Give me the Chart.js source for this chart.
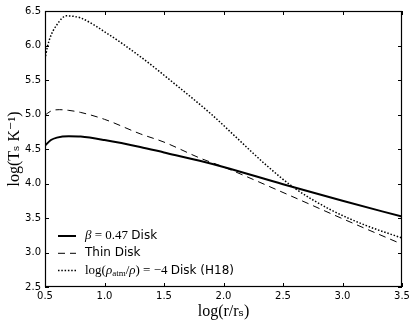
<!DOCTYPE html>
<html>
<head>
<meta charset="utf-8">
<script src="https://cdn.jsdelivr.net/npm/chart.js@4"></script>
<style>
  html, body { margin: 0; padding: 0; background: #fff; }
  #wrap { width: 416px; height: 325px; position: relative; }
</style>
</head>
<body>
<div id="wrap"><canvas id="chart"></canvas></div>
<script>
// log(r/r_s) -> log(T_s)

var xBeta = [0.50, 0.55, 0.60, 0.70, 0.80, 1.00, 1.30, 1.50, 1.80, 2.00, 2.50, 3.00, 3.50];
var yBeta = [4.55, 4.63, 4.665, 4.685, 4.68, 4.63, 4.53, 4.45, 4.33, 4.24, 3.99, 3.75, 3.52];

var xThin = [0.50, 0.55, 0.62, 0.70, 0.80, 1.00, 1.30, 1.50, 1.80, 2.00, 2.50, 3.00, 3.50];
var yThin = [4.99, 5.05, 5.07, 5.06, 5.03, 4.93, 4.72, 4.60, 4.37, 4.24, 3.87, 3.49, 3.12];

var xH18 = [0.50, 0.52, 0.54, 0.57, 0.60, 0.64, 0.68, 0.75, 0.80, 1.00, 1.30, 1.60, 1.90, 2.10, 2.35, 2.60, 2.90, 3.20, 3.50];
var yH18 = [5.80, 5.98, 6.10, 6.22, 6.30, 6.39, 6.43, 6.42, 6.40, 6.20, 5.84, 5.43, 5.00, 4.68, 4.28, 3.93, 3.62, 3.39, 3.21];

var xTicks = [0.5, 1.0, 1.5, 2.0, 2.5, 3.0, 3.5];
var yTicks = [2.5, 3.0, 3.5, 4.0, 4.5, 5.0, 5.5, 6.0, 6.5];

var serif = '"Liberation Serif", "DejaVu Serif", serif';
var sans = '"DejaVu Sans", sans-serif';

function pairs(xs, ys) {
    return xs.map(function (x, i) { return {x: x, y: ys[i]}; });
}

// legend text pieces: [text, font, dy]
var legendRows = [
    [['\u03b2', 'italic 13px ' + serif, 0], [' = 0.47 ', '13px ' + serif, 0], ['Disk', '12px ' + sans, 0]],
    [['Thin Disk', '12px ' + sans, 0]],
    [['log(', '13px ' + serif, 0], ['\u03c1', 'italic 13px ' + serif, 0], ['atm', '9px ' + serif, 3],
     ['/', '13px ' + serif, 0], ['\u03c1', 'italic 13px ' + serif, 0], [') = \u22124 ', '13px ' + serif, 0],
     ['Disk (H18)', '12px ' + sans, 0]]
];

// box round the axes plus inward ticks on all four sides
var frameTicks = {
    id: 'frameTicks',
    afterDatasetsDraw: function (chart) {
        var ctx = chart.ctx, a = chart.chartArea;
        var xs = chart.scales.x, ys = chart.scales.y;
        ctx.save();
        ctx.strokeStyle = '#000';
        ctx.lineWidth = 1;
        ctx.setLineDash([]);
        ctx.beginPath();
        xs.ticks.forEach(function (t) {
            var px = Math.round(xs.getPixelForValue(t.value)) + 0.5;
            ctx.moveTo(px, a.bottom); ctx.lineTo(px, a.bottom - 4);
            ctx.moveTo(px, a.top); ctx.lineTo(px, a.top + 4);
        });
        ys.ticks.forEach(function (t) {
            var py = Math.round(ys.getPixelForValue(t.value)) + 0.5;
            ctx.moveTo(a.left, py); ctx.lineTo(a.left + 4, py);
            ctx.moveTo(a.right, py); ctx.lineTo(a.right - 4, py);
        });
        ctx.stroke();
        ctx.lineWidth = 1.2;
        ctx.strokeRect(a.left + 0.5, a.top + 0.5, a.right - a.left - 1, a.bottom - a.top - 1);
        ctx.restore();
    }
};

// legend in the lower left corner, no frame
var innerLegend = {
    id: 'innerLegend',
    afterDatasetsDraw: function (chart) {
        var ctx = chart.ctx, a = chart.chartArea;
        var x0 = a.left + 13, x1 = a.left + 31, tx = a.left + 40;
        var y = a.bottom - 51;
        ctx.save();
        chart.data.datasets.forEach(function (ds, i) {
            var cy = y + i * 17.3;
            ctx.strokeStyle = ds.borderColor;
            ctx.lineWidth = ds.borderWidth;
            ctx.setLineDash(ds.borderDash || []);
            ctx.beginPath();
            ctx.moveTo(x0, cy); ctx.lineTo(x1, cy);
            ctx.stroke();
            ctx.setLineDash([]);
            ctx.fillStyle = '#000';
            ctx.textBaseline = 'middle';
            ctx.textAlign = 'left';
            var cx = tx;
            legendRows[i].forEach(function (p) {
                ctx.font = p[1];
                ctx.fillText(p[0], cx, cy + p[2]);
                cx += ctx.measureText(p[0]).width;
            });
        });
        ctx.restore();
    }
};

var config = {
    type: 'line',
    data: {
        datasets: [{
            label: '\u03b2 = 0.47 Disk',
            data: pairs(xBeta, yBeta),
            borderColor: '#000',
            borderWidth: 2,
            pointRadius: 0,
            cubicInterpolationMode: 'monotone',
            fill: false
        }, {
            label: 'Thin Disk',
            data: pairs(xThin, yThin),
            borderColor: '#000',
            borderWidth: 1,
            borderDash: [7, 5],
            pointRadius: 0,
            cubicInterpolationMode: 'monotone',
            fill: false
        }, {
            label: 'log(\u03c1atm/\u03c1) = \u22124 Disk (H18)',
            data: pairs(xH18, yH18),
            borderColor: '#000',
            borderWidth: 1.5,
            borderDash: [1.5, 1.8],
            pointRadius: 0,
            cubicInterpolationMode: 'monotone',
            fill: false
        }]
    },
    options: {
        responsive: true,
        maintainAspectRatio: false,
        animation: false,
        layout: { padding: { top: 11, right: 14, left: 0, bottom: 0 } },
        plugins: {
            legend: { display: false },
            tooltip: { enabled: false }
        },
        scales: {
            x: {
                type: 'linear',
                min: 0.5,
                max: 3.5,
                afterFit: function (s) { s.height = 38; },
                afterBuildTicks: function (s) {
                    s.ticks = xTicks.map(function (v) { return {value: v}; });
                },
                grid: { display: false, drawTicks: false },
                border: { display: false },
                ticks: {
                    padding: 3,
                    color: '#000',
                    font: { family: sans, size: 10 },
                    maxRotation: 0,
                    callback: function (v) { return v.toFixed(1); }
                },
                title: {
                    display: true,
                    text: 'log(r/r\u209b)',
                    color: '#000',
                    font: { family: serif, size: 16 },
                    padding: { top: 4, bottom: 4 }
                }
            },
            y: {
                type: 'linear',
                min: 2.5,
                max: 6.5,
                afterFit: function (s) { s.width = 45; },
                afterBuildTicks: function (s) {
                    s.ticks = yTicks.map(function (v) { return {value: v}; });
                },
                grid: { display: false, drawTicks: false },
                border: { display: false },
                ticks: {
                    padding: 4,
                    color: '#000',
                    font: { family: sans, size: 10 },
                    callback: function (v) { return v.toFixed(1); }
                },
                title: {
                    display: true,
                    text: 'log(T\u209b K\u207b\u00b9)',
                    color: '#000',
                    font: { family: serif, size: 16 },
                    padding: { top: 5, bottom: 5 }
                }
            }
        }
    },
    plugins: [frameTicks, innerLegend]
};

new Chart(document.getElementById('chart').getContext('2d'), config);
</script>
</body>
</html>
